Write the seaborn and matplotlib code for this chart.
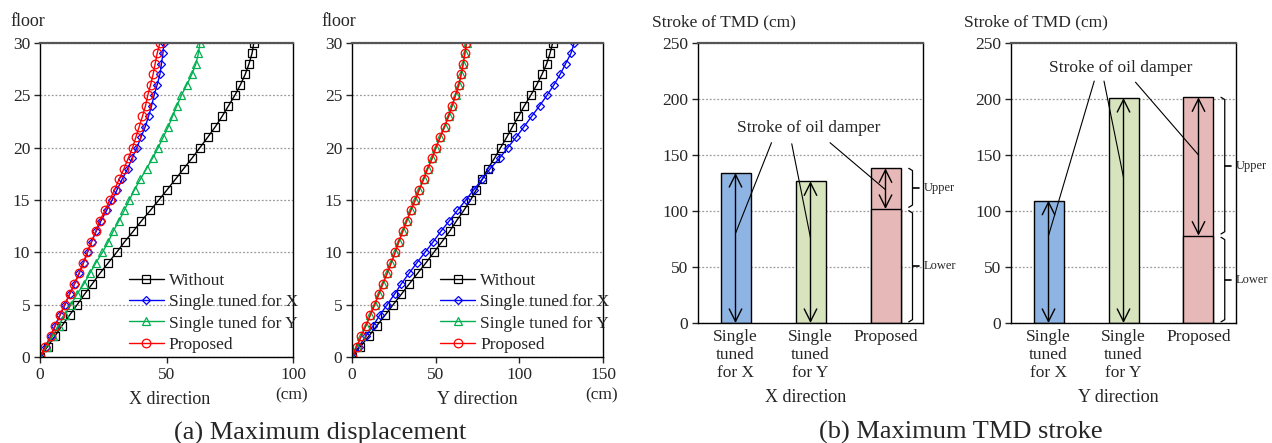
import numpy as np
import pandas as pd
import matplotlib
matplotlib.use("Agg")
import matplotlib.pyplot as plt
import seaborn as sns

sns.set_style("ticks")
plt.rcParams['font.family'] = ['Liberation Serif', 'DejaVu Serif']
plt.rcParams['mathtext.fontset'] = 'stix'

# ---------------- data ----------------
floors = list(range(31))

# (a) X direction, displacement (cm)
x_without = [0, 3.0, 5.9, 8.7, 11.7, 14.7, 17.6, 20.7, 23.7, 27.0, 30.3, 33.4, 36.8, 40.1, 43.6,
             47.0, 50.3, 53.6, 56.8, 60.1, 63.2, 66.3, 69.3, 72.0, 74.5, 77.0, 79.2, 81.1, 82.6, 83.8, 84.5]
x_single_x = [0, 2.2, 4.2, 5.9, 7.9, 9.9, 11.7, 13.7, 15.5, 17.2, 18.8, 20.4, 22.2, 24.1, 26.3,
              28.5, 30.5, 32.5, 34.7, 36.4, 38.3, 39.9, 41.6, 42.9, 44.1, 45.1, 46.3, 47.4, 48.0, 48.6, 48.9]
x_single_y = [0, 2.6, 5.0, 7.4, 9.7, 12.2, 14.6, 17.4, 19.7, 22.1, 24.7, 27.0, 28.9, 31.2, 33.3,
              35.3, 37.4, 39.7, 42.1, 44.5, 46.7, 48.7, 50.7, 52.4, 54.1, 55.9, 58.0, 60.0, 61.6, 62.6, 63.2]
x_proposed = [0, 2.1, 4.2, 6.1, 7.9, 9.7, 11.7, 13.6, 15.4, 17.1, 18.7, 20.3, 22.0, 23.6, 25.7,
              27.6, 29.5, 31.3, 33.2, 34.9, 36.6, 37.9, 39.2, 40.5, 41.7, 42.6, 43.7, 44.7, 45.5, 46.3, 47.4]

# (a) Y direction, displacement (cm)
y_without = [0, 5.0, 10.1, 14.9, 19.8, 24.6, 29.5, 34.3, 39.2, 44.2, 48.9, 53.7, 58.3, 62.4, 66.8,
             70.9, 74.3, 77.9, 81.2, 85.2, 88.8, 92.5, 95.9, 99.5, 103.0, 106.8, 110.4, 113.5, 116.3, 118.3, 119.9]
y_single_x = [0, 4.2, 8.3, 12.7, 16.6, 21.0, 25.4, 29.5, 34.1, 38.8, 43.6, 48.5, 53.1, 58.1, 63.0,
              68.0, 72.9, 77.9, 82.6, 88.2, 93.1, 98.1, 102.8, 107.4, 112.1, 116.5, 120.7, 124.4, 127.6, 130.8, 132.8]
y_single_y = [0, 2.9, 5.6, 8.4, 11.0, 13.6, 16.1, 18.5, 21.1, 23.5, 25.9, 28.0, 30.4, 32.8, 35.2,
              37.9, 40.3, 42.9, 45.3, 48.0, 50.2, 52.8, 55.4, 57.8, 59.9, 61.9, 63.9, 65.3, 66.5, 67.5, 68.5]
y_proposed = [0, 2.8, 5.5, 8.3, 10.9, 13.5, 16.0, 18.4, 21.0, 23.4, 25.8, 27.9, 30.3, 32.7, 35.1,
              37.8, 40.2, 42.8, 45.2, 47.9, 50.1, 52.7, 55.3, 57.7, 59.8, 61.8, 63.8, 65.2, 66.4, 67.4, 68.4]

series_labels = ["Without", "Single tuned for X", "Single tuned for Y", "Proposed"]
series_colors = ["black", "#0000FF", "#00B050", "#FF0000"]
series_markers = ["s", "D", "^", "o"]
series_msize = [5.2, 3.6, 5.4, 6.2]

# (b) TMD stroke (cm)
bar_categories = ["Single\ntuned\nfor X", "Single\ntuned\nfor Y", "Proposed"]
stroke_x_total = [133.9, 126.5, 138.1]
stroke_x_lower = 101.8   # lower TMD part of proposed (X)
stroke_y_total = [109.2, 200.9, 201.5]
stroke_y_lower = 78.0    # lower TMD part of proposed (Y)
bar_colors = ["#8EB4E3", "#D7E4BD", "#E6B9B8"]

# ---------------- figure ----------------
W, H = 1272, 443
fig = plt.figure(figsize=(W / 100, H / 100), dpi=100)

def px_axes(left, top, right, bottom):
    return fig.add_axes([left / W, 1 - bottom / H, (right - left) / W, (bottom - top) / H])

FS = 12.5

def style_axes(ax):
    for s in ax.spines.values():
        s.set_visible(True)
        s.set_color("black")
        s.set_linewidth(1.0)
    ax.spines["top"].set_color("#555555")
    ax.spines["top"].set_linewidth(1.6)
    ax.tick_params(direction="out", length=4, width=1, labelsize=FS, pad=3)
    ax.yaxis.grid(True, linestyle=(0, (1.5, 1.5)), color="#9a9a9a", linewidth=0.9)
    ax.xaxis.grid(False)
    ax.set_axisbelow(True)

def line_panel(ax, data, xmax, xticks, xlabel, xlabel_x, cm_x, floor_x):
    style_axes(ax)
    for vals, lab, col, mk, ms in zip(data, series_labels, series_colors, series_markers, series_msize):
        df = pd.DataFrame({"disp": vals, "floor": floors})
        sns.lineplot(data=df, x="disp", y="floor", sort=False, estimator=None, ax=ax,
                     color=col, marker=mk, markersize=ms, markerfacecolor="none",
                     markeredgecolor=col, markeredgewidth=0.9, linewidth=1.0, label=lab)
    ax.set_xlim(0, xmax)
    ax.set_ylim(0, 30)
    ax.set_xticks(xticks)
    ax.set_yticks(range(0, 31, 5))
    ax.set_xlabel("")
    ax.set_ylabel("")
    ax.legend(loc="lower left", bbox_to_anchor=(0.31, -0.02), frameon=False, fontsize=FS,
              handlelength=2.0, handletextpad=0.3, labelspacing=0.3, borderaxespad=0.2)
    fig.text(xlabel_x / W, 1 - 400 / H, xlabel, ha="center", va="center", fontsize=13)
    fig.text(cm_x / W, 1 - 395 / H, "(cm)", ha="center", va="center", fontsize=FS)
    fig.text(floor_x / W, 1 - 21 / H, "floor", ha="left", va="center", fontsize=13)

ax1 = px_axes(40, 43, 293, 357)
line_panel(ax1, [x_without, x_single_x, x_single_y, x_proposed], 100, [0, 50, 100],
           "X direction", 170, 292, 10)
ax2 = px_axes(352, 43, 603, 357)
line_panel(ax2, [y_without, y_single_x, y_single_y, y_proposed], 150, [0, 50, 100, 150],
           "Y direction", 477, 602, 321)

def bracket(ax, x, y0, y1, label, hook=0.05, tick=0.09):
    ym = (y0 + y1) / 2
    ax.plot([x - hook, x, x, x - hook], [y1, y1 - 2, y0 + 2, y0], color="black", lw=0.9,
            clip_on=False)
    ax.plot([x, x + tick], [ym, ym], color="black", lw=1.2, clip_on=False)
    ax.text(x + tick + 0.06, ym, label, fontsize=9, ha="left", va="center", clip_on=False)

def arrow(ax, x, y0, y1):
    ax.annotate("", xy=(x, y0), xytext=(x, y1),
                arrowprops=dict(arrowstyle="<->,head_length=0.6,head_width=0.3", lw=1.0,
                                color="black", shrinkA=0, shrinkB=0, mutation_scale=15))

def bar_panel(ax, totals, lower, xlabel, xlabel_x, ylab_x, text_xy, line_pts, brx):
    style_axes(ax)
    df = pd.DataFrame({"cat": bar_categories, "val": totals})
    sns.barplot(data=df, x="cat", y="val", hue="cat", palette=bar_colors, legend=False,
                saturation=1, width=0.4, edgecolor="black", linewidth=1.0, ax=ax)
    ax.bar(2, lower, width=0.4, color=bar_colors[2], edgecolor="black", linewidth=1.0)
    ax.set_xlim(-0.5, 2.5)
    ax.set_ylim(0, 250)
    ax.set_yticks(range(0, 251, 50))
    ax.tick_params(axis="x", length=0, pad=4)
    ax.set_xlabel("")
    ax.set_ylabel("")
    arrow(ax, 0, 0, totals[0])
    arrow(ax, 1, 0, totals[1])
    arrow(ax, 2, lower, totals[2])
    ax.text(text_xy[0], text_xy[1], "Stroke of oil damper", ha="center", va="center", fontsize=FS)
    for (xa, ya), (xb, yb) in line_pts:
        ax.plot([xa, xb], [ya, yb], color="black", lw=0.8)
    bracket(ax, brx, lower + 1.5, totals[2], "Upper")
    bracket(ax, brx, 1, lower - 1.5, "Lower")
    fig.text(xlabel_x / W, 1 - 398 / H, xlabel, ha="center", va="center", fontsize=13)
    fig.text(ylab_x / W, 1 - 22 / H, "Stroke of TMD (cm)", ha="left", va="center", fontsize=FS)

ax3 = px_axes(698, 43, 923, 323)
bar_panel(ax3, stroke_x_total, stroke_x_lower, "X direction", 806, 652, (0.97, 174),
          [((0.48, 161), (0.0, 80)), ((0.75, 160), (1.0, 76)), ((1.26, 161), (2.0, 119))], 2.36)
ax4 = px_axes(1011, 43, 1236, 323)
bar_panel(ax4, stroke_y_total, stroke_y_lower, "Y direction", 1118, 964, (0.96, 228),
          [((0.61, 216), (0.0, 78)), ((0.74, 216), (1.0, 130)), ((1.16, 215), (2.0, 150))], 2.35)

fig.text(320 / W, 1 - 433 / H, "(a) Maximum displacement", ha="center", va="center", fontsize=19)
fig.text(961 / W, 1 - 432 / H, "(b) Maximum TMD stroke", ha="center", va="center", fontsize=19)

fig.savefig("out.png", dpi=100)
